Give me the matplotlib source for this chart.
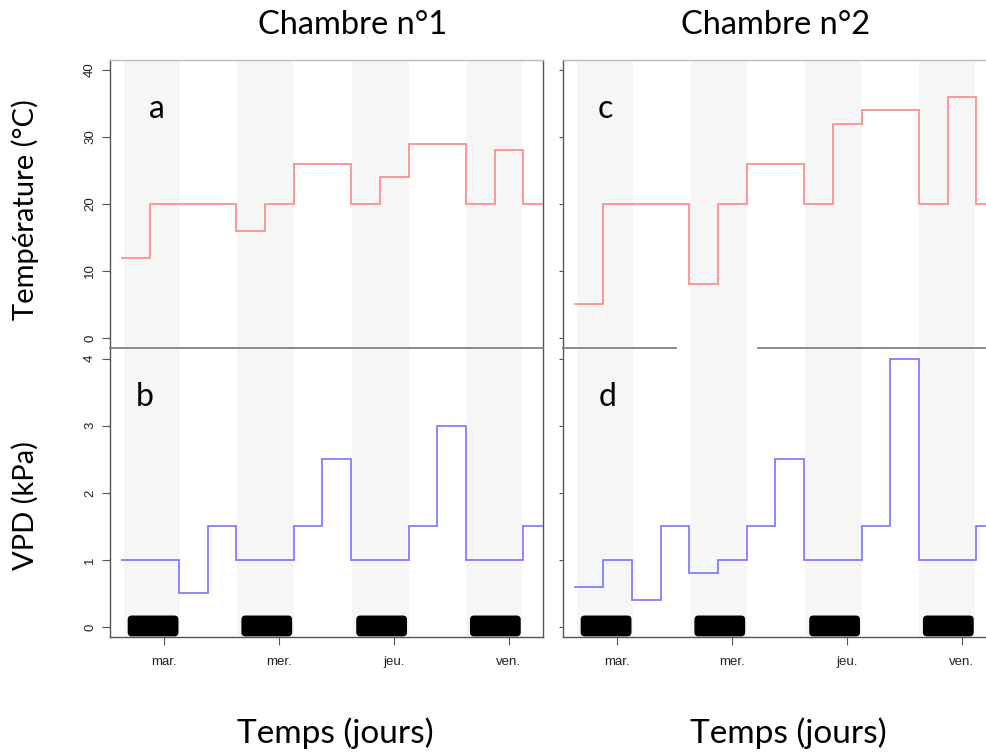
import numpy as np
import matplotlib
matplotlib.use("Agg")
import matplotlib.pyplot as plt
from matplotlib.patches import FancyBboxPatch

# time axis in days (0 = mar.), one value per 6 h step
t_start = -0.37
step = 0.25
day_ticks = [0, 1, 2, 3]
day_labels = ["mar.", "mer.", "jeu.", "ven."]
night_starts = [-0.35, 0.64, 1.64, 2.63]
night_len = 0.49

temp_ch1 = [12, 20, 20, 20, 16, 20, 26, 26, 20, 24, 29, 29, 20, 28, 20]
temp_ch2 = [5, 20, 20, 20, 8, 20, 26, 26, 20, 32, 34, 34, 20, 36, 20]
vpd_ch1 = [1, 1, 0.5, 1.5, 1, 1, 1.5, 2.5, 1, 1, 1.5, 3, 1, 1, 1.5]
vpd_ch2 = [0.6, 1, 0.4, 1.5, 0.8, 1, 1.5, 2.5, 1, 1, 1.5, 4, 1, 1, 1.5]

plt.rcParams['font.family'] = ['Liberation Sans', 'DejaVu Sans']
label_font = ['Lato', 'DejaVu Sans']

W, H = 987, 753
fig = plt.figure(figsize=(W / 100, H / 100), dpi=100)


def px_axes(x0, y0, x1, y1):
    return fig.add_axes([x0 / W, 1 - y1 / H, (x1 - x0) / W, (y1 - y0) / H])


ax_a = px_axes(110, 60, 543, 348)
ax_b = px_axes(110, 348, 543, 637)
ax_c = px_axes(563, 60, 996, 348)
ax_d = px_axes(563, 348, 996, 637)


def style(ax, top, left_labels):
    ax.set_xlim(-0.47, 3.30)
    for x0 in night_starts:
        ax.axvspan(x0, x0 + night_len, color="#f6f6f6", lw=0, zorder=0)
    for s in ax.spines.values():
        s.set_color("#555555")
        s.set_linewidth(1.0)
    ax.spines["top"].set_color("#bbbbbb")
    ax.tick_params(axis="y", direction="out", length=6, width=0.8, color="#555555",
                   labelsize=9.5, labelcolor="#222222", pad=4)
    if not left_labels:
        ax.tick_params(axis="y", labelleft=False, length=3)
    if top:
        ax.set_xticks([])
    else:
        ax.set_xticks(day_ticks)
        ax.set_xticklabels(day_labels)
        ax.tick_params(axis="x", direction="out", length=6, width=0.8, color="#555555",
                       labelsize=9.5, labelcolor="#222222", pad=8)
    for lab in ax.get_yticklabels():
        lab.set_rotation(90)
        lab.set_va("center")


edges = t_start + step * np.arange(len(temp_ch1) + 1)

for ax, temp, left in [(ax_a, temp_ch1, True), (ax_c, temp_ch2, False)]:
    ax.stairs(temp, edges, baseline=None, color="#ff8f8f", lw=1.3, zorder=3)
    ax.set_ylim(-1.5, 41.5)
    ax.set_yticks([0, 10, 20, 30, 40])
    style(ax, True, left)
    ax.spines["bottom"].set_visible(False)

for ax, vpd, left in [(ax_b, vpd_ch1, True), (ax_d, vpd_ch2, False)]:
    ax.stairs(vpd, edges, baseline=None, color="#7f7fff", lw=1.3, zorder=3)
    ax.set_ylim(-0.15, 4.16)
    ax.set_yticks([0, 1, 2, 3, 4])
    style(ax, False, left)
    ax.spines["top"].set_visible(False)
    for x0 in night_starts:
        ax.add_patch(FancyBboxPatch((x0 + 0.04, -0.13), 0.43, 0.29,
                                    boxstyle="round,pad=0,rounding_size=0.03",
                                    mutation_aspect=1.7, fc="black", ec="black",
                                    zorder=4))

# divider between upper and lower panels
ax_b.plot([0, 1], [1, 1], transform=ax_b.transAxes, color="#777777", lw=1.2,
          clip_on=False, zorder=5)
ax_d.plot([0, 0.26], [1, 1], transform=ax_d.transAxes, color="#777777", lw=1.2,
          clip_on=False, zorder=5)
ax_d.plot([0.45, 1], [1, 1], transform=ax_d.transAxes, color="#777777", lw=1.2,
          clip_on=False, zorder=5)

# panel letters
for ax, letter, x in [(ax_a, "a", 0.109), (ax_b, "b", 0.081),
                      (ax_c, "c", 0.097), (ax_d, "d", 0.102)]:
    ax.text(x, 0.83, letter, transform=ax.transAxes, fontsize=23,
            family=label_font, ha="center", va="center", zorder=6)

fig.text(353 / W, 1 - 25 / H, "Chambre n°1", fontsize=23.5, family=label_font,
         ha="center", va="center")
fig.text(776 / W, 1 - 25 / H, "Chambre n°2", fontsize=23.5, family=label_font,
         ha="center", va="center")
fig.text(335 / W, 1 - 733 / H, "Temps (jours)", fontsize=24, family=label_font,
         ha="center", va="center")
fig.text(788 / W, 1 - 733 / H, "Temps (jours)", fontsize=24, family=label_font,
         ha="center", va="center")
fig.text(25 / W, 1 - 210 / H, "Température (°C)", fontsize=21, family=label_font,
         ha="center", va="center", rotation=90)
fig.text(25 / W, 1 - 505 / H, "VPD (kPa)", fontsize=21, family=label_font,
         ha="center", va="center", rotation=90)

fig.savefig("out.png", dpi=100)
